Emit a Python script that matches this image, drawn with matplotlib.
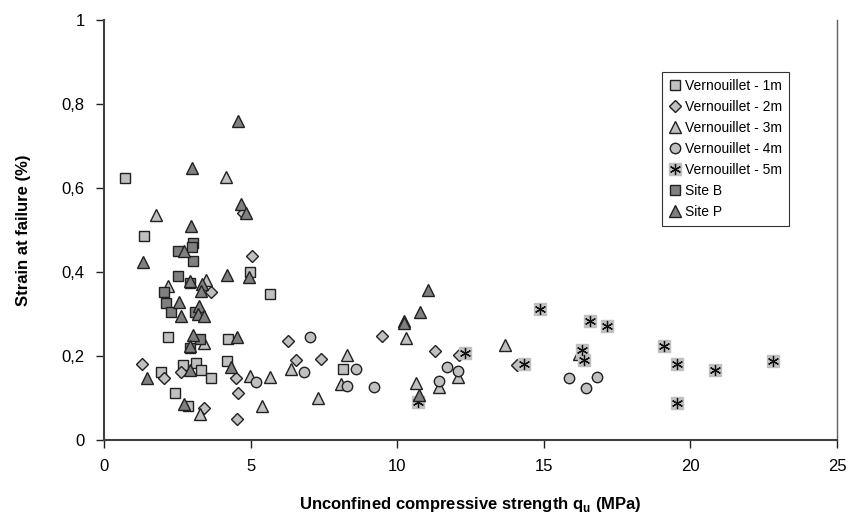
import matplotlib
matplotlib.use("Agg")
import matplotlib.pyplot as plt
from matplotlib.ticker import FuncFormatter, MultipleLocator

plt.rcParams['font.family'] = ['Liberation Sans', 'DejaVu Sans']

# Vernouillet - 1m (light squares)
v1_x = [0.73, 1.37, 2.17, 4.98, 5.65, 4.22, 4.20, 2.68, 3.15, 1.96, 3.32, 3.66, 2.43, 2.85, 8.16]
v1_y = [0.625, 0.486, 0.245, 0.399, 0.347, 0.240, 0.189, 0.179, 0.184, 0.163, 0.167, 0.148, 0.113, 0.081, 0.169]

# Vernouillet - 2m (diamonds)
v2_x = [4.73, 5.06, 3.65, 1.31, 2.64, 4.51, 2.05, 4.56, 3.42, 4.54, 6.28, 9.49, 6.54, 7.41, 11.28, 12.11, 14.09]
v2_y = [0.540, 0.438, 0.352, 0.182, 0.163, 0.148, 0.147, 0.111, 0.077, 0.050, 0.236, 0.248, 0.190, 0.193, 0.212, 0.202, 0.179]

# Vernouillet - 3m (light triangles)
v3_x = [1.78, 4.16, 2.17, 3.49, 3.42, 4.98, 5.65, 5.39, 3.28, 6.36, 8.27, 8.07, 7.29, 10.29, 12.08, 11.43, 10.63, 13.68, 16.20]
v3_y = [0.536, 0.627, 0.367, 0.381, 0.232, 0.152, 0.149, 0.082, 0.062, 0.168, 0.202, 0.133, 0.099, 0.244, 0.151, 0.127, 0.135, 0.226, 0.205]

# Vernouillet - 4m (circles)
v4_x = [5.19, 7.04, 6.81, 8.60, 8.30, 9.21, 11.71, 12.08, 11.43, 15.85, 16.43, 16.82]
v4_y = [0.139, 0.246, 0.163, 0.169, 0.129, 0.127, 0.173, 0.165, 0.140, 0.147, 0.123, 0.151]

# Vernouillet - 5m (asterisks)
v5_x = [10.72, 12.32, 14.87, 14.31, 16.58, 17.16, 16.30, 16.36, 19.08, 19.55, 19.55, 20.83, 22.83]
v5_y = [0.091, 0.208, 0.311, 0.181, 0.283, 0.272, 0.214, 0.190, 0.225, 0.182, 0.088, 0.167, 0.189]

# Site B (dark squares)
sb_x = [3.02, 3.00, 2.52, 3.03, 2.52, 2.94, 2.03, 2.11, 2.29, 3.11, 3.26, 2.94]
sb_y = [0.469, 0.460, 0.450, 0.426, 0.391, 0.373, 0.353, 0.327, 0.306, 0.306, 0.240, 0.219]

# Site P (dark triangles)
sp_x = [4.57, 3.01, 4.66, 4.83, 2.96, 2.73, 1.33, 4.20, 4.93, 2.92, 3.34, 3.30, 2.56, 3.24, 2.61,
        3.22, 3.42, 3.04, 2.92, 4.52, 2.92, 4.33, 1.46, 2.73, 11.05, 10.77, 10.23, 10.23, 10.75]
sp_y = [0.760, 0.647, 0.563, 0.540, 0.510, 0.450, 0.423, 0.393, 0.389, 0.379, 0.371, 0.355, 0.329, 0.319, 0.296,
        0.300, 0.296, 0.250, 0.224, 0.246, 0.167, 0.175, 0.147, 0.085, 0.357, 0.306, 0.284, 0.278, 0.107]

light = '#c0c0c0'
dark = '#808080'
edge = '#202020'

fig = plt.figure(figsize=(8.49, 5.32), dpi=100)
ax = fig.add_axes([0.1225, 0.173, 0.8635, 0.789])

kw = dict(linestyle='none', markeredgecolor=edge, markeredgewidth=1.0)
h1, = ax.plot(v1_x, v1_y, marker='s', ms=6.5, markerfacecolor=light, **kw)
h2, = ax.plot(v2_x, v2_y, marker='D', ms=6.3, markerfacecolor=light, **kw)
h3, = ax.plot(v3_x, v3_y, marker='^', ms=8, markerfacecolor=light, **kw)
h4, = ax.plot(v4_x, v4_y, marker='o', ms=7.5, markerfacecolor=light, **kw)
# asterisk marker on a grey square background
h5a, = ax.plot(v5_x, v5_y, linestyle='none', marker='s', ms=8, markerfacecolor=light,
               markeredgecolor=light)
h5b, = ax.plot(v5_x, v5_y, linestyle='none', marker=(6, 2, 0), ms=8, markeredgecolor='#101010',
               markeredgewidth=0.9)
h6, = ax.plot(sb_x, sb_y, marker='s', ms=6.5, markerfacecolor=dark, **kw)
h7, = ax.plot(sp_x, sp_y, marker='^', ms=8, markerfacecolor=dark, **kw)

ax.set_xlim(0, 25)
ax.set_ylim(0, 1)
ax.xaxis.set_major_locator(MultipleLocator(5))
ax.yaxis.set_major_locator(MultipleLocator(0.2))
ax.yaxis.set_major_formatter(FuncFormatter(lambda v, p: ('%g' % round(v, 2)).replace('.', ',')))

for s in ['left', 'bottom']:
    ax.spines[s].set_color('#404040')
    ax.spines[s].set_linewidth(1.5)
ax.spines['top'].set_visible(False)
ax.spines['right'].set_color('#606060')
ax.spines['right'].set_linewidth(1.0)
ax.tick_params(axis='both', direction='out', length=6, width=1, color='#202020',
               labelsize=12, pad=8)

ax.set_xlabel('Unconfined compressive strength q$_\\mathregular{u}$ (MPa)',
              fontsize=12, fontweight='bold', labelpad=15)
ax.set_ylabel('Strain at failure (%)', fontsize=12, fontweight='bold', labelpad=22)

leg = ax.legend([h1, h2, h3, h4, (h5a, h5b), h6, h7],
                ['Vernouillet - 1m', 'Vernouillet - 2m', 'Vernouillet - 3m', 'Vernouillet - 4m',
                 'Vernouillet - 5m', 'Site B', 'Site P'],
                loc='upper right', bbox_to_anchor=(0.934, 0.876), fontsize=10,
                frameon=True, fancybox=False, edgecolor='black', handlelength=0.8,
                handletextpad=0.3, borderpad=0.5, labelspacing=0.5, borderaxespad=0)
leg.get_frame().set_linewidth(0.8)

fig.savefig('out.png', dpi=100)
